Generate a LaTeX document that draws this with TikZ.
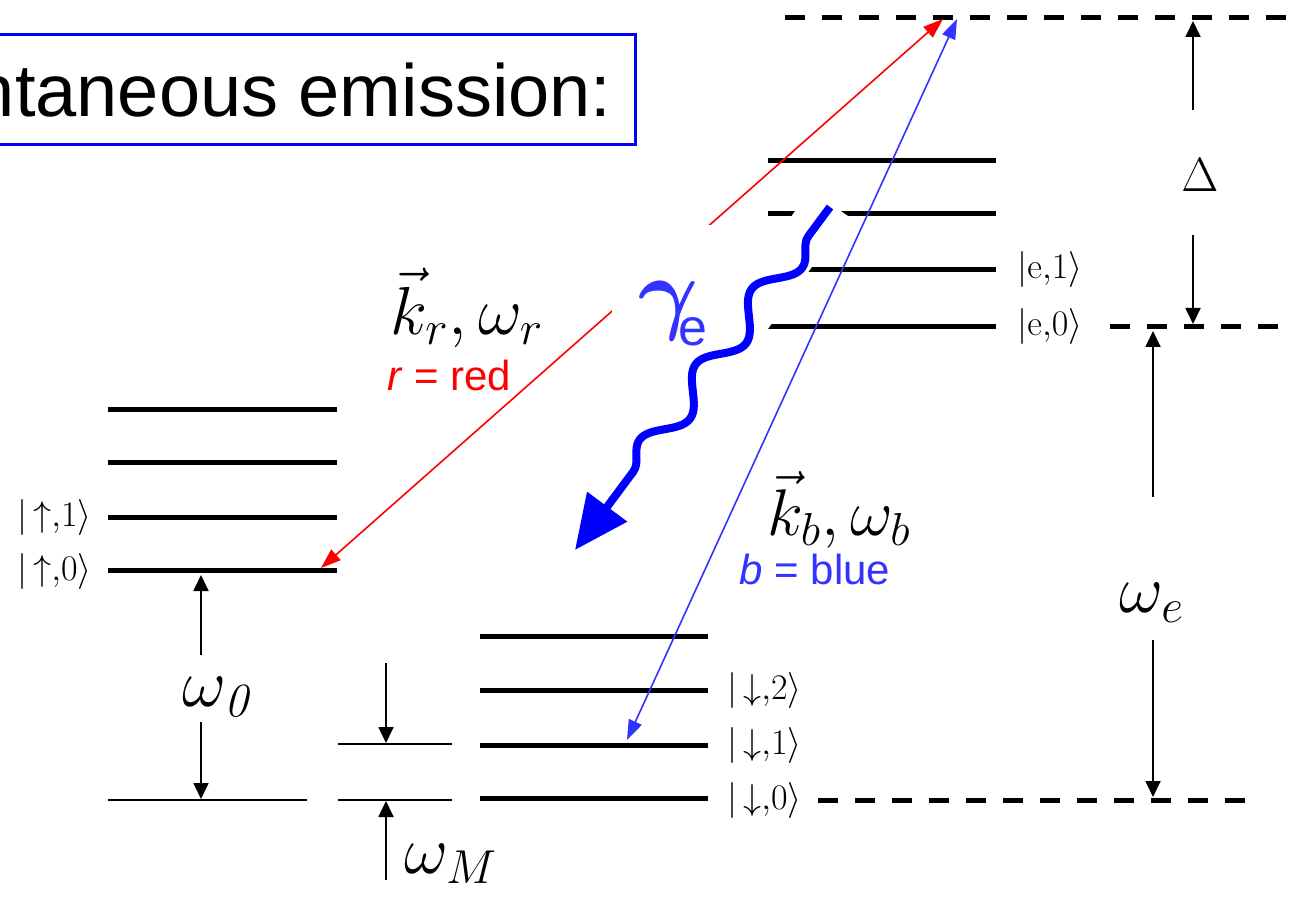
\RequirePackage{fix-cm}
\documentclass[tikz,border=0pt]{standalone}
\usepackage{amsmath}
\usepackage[no-math]{fontspec}
\setmainfont{Liberation Sans}
\usetikzlibrary{arrows.meta,decorations.pathmorphing}
\definecolor{rayblue}{HTML}{3333FF}
\definecolor{rayred}{HTML}{FF0000}
\definecolor{photonblue}{HTML}{0000FF}

\begin{document}
\begin{tikzpicture}[
  x=0.5pt, y=-0.5pt,
  level/.style={line width=2.5pt},
  thinlevel/.style={line width=0.9pt},
  virtual/.style={line width=2.5pt, dash pattern=on 10pt off 8.5pt},
  arr/.style={-{Triangle[length=8pt, width=7.5pt]}, line width=0.9pt},
  ray/.style={{Triangle[length=10pt, width=7pt]}-{Triangle[length=10pt, width=7pt]}, line width=0.8pt, draw=#1},
  ket/.style={inner sep=0pt, font=\fontsize{18}{20}\selectfont},
  sym/.style={inner sep=0pt, font=\fontsize{34}{40}\selectfont},
  note/.style={inner sep=0pt, font=\fontsize{21}{24}\selectfont, text=#1},
  photon/.style={decorate, decoration={snake, amplitude=7pt, segment length=47pt, pre length=18pt, post length=40pt}, line width=#1},
  title/.style={draw=blue, line width=1.5pt, inner xsep=12pt, inner ysep=0pt, text height=41.25pt, text depth=13.75pt, font=\fontsize{37}{44}\selectfont}
]
  \useasboundingbox (0,0) rectangle (1291,903);
  \clip (0,0) rectangle (1291,903);

  % title
  \node[title, anchor=base east] (title) at (637,117) {Spontaneous emission:};

  % spin up ladder
  \foreach \y in {410,463,518,571}
    \draw[level] (108,\y) -- (337,\y);
  \draw[thinlevel] (108,800) -- (307,800);
  \node[ket, anchor=east] (up1) at (92,518) {$|\,{\uparrow}{,}1\rangle$};
  \node[ket, anchor=east] (up0) at (92,572) {$|\,{\uparrow}{,}0\rangle$};

  % spin down ladder
  \foreach \y in {636,690,745,798}
    \draw[level] (480,\y) -- (708,\y);
  \draw[thinlevel] (338,744) -- (452,744);
  \draw[thinlevel] (338,800) -- (452,800);
  \node[ket, anchor=west] (dn2) at (727,690) {$|\,{\downarrow}{,}2\rangle$};
  \node[ket, anchor=west] (dn1) at (727,745) {$|\,{\downarrow}{,}1\rangle$};
  \node[ket, anchor=west] (dn0) at (727,800) {$|\,{\downarrow}{,}0\rangle$};

  % excited ladder
  \foreach \y in {161,214,270,327}
    \draw[level] (768,\y) -- (996,\y);
  \node[ket, anchor=west] (e1) at (1017,270) {$|\mathrm{e}{,}1\rangle$};
  \node[ket, anchor=west] (e0) at (1017,327) {$|\mathrm{e}{,}0\rangle$};

  % virtual levels
  \draw[virtual] (785,18) -- (1300,18);
  \draw[virtual] (1110,327) -- (1282,327);
  \draw[virtual] (818,800) -- (1252,800);

  % splittings
  \node[sym] (w0) at (219,697) {$\omega_{\mathit{0}}$};
  \coordinate (w0a) at (201,655);
  \coordinate (w0b) at (201,575);
  \coordinate (w0c) at (201,722);
  \coordinate (w0d) at (201,799);
  \draw[arr] (w0a) -- (w0b);
  \draw[arr] (w0c) -- (w0d);

  \node[sym] (wM) at (451,864) {$\omega_M$};
  \coordinate (wMa) at (386,663);
  \coordinate (wMb) at (386,743);
  \coordinate (wMc) at (386,880);
  \coordinate (wMd) at (386,801);
  \draw[arr] (wMa) -- (wMb);
  \draw[arr] (wMc) -- (wMd);

  \node[sym] (we) at (1152,603) {$\omega_e$};
  \coordinate (wea) at (1153,497);
  \coordinate (web) at (1153,331);
  \coordinate (wec) at (1153,640);
  \coordinate (wed) at (1153,797);
  \draw[arr] (wea) -- (web);
  \draw[arr] (wec) -- (wed);

  \node[sym, font=\fontsize{24}{28}\selectfont] (Dl) at (1200,175) {$\Delta$};
  \coordinate (Dla) at (1193,110);
  \coordinate (Dlb) at (1193,21);
  \coordinate (Dlc) at (1193,235);
  \coordinate (Dld) at (1193,324);
  \draw[arr] (Dla) -- (Dlb);
  \draw[arr] (Dlc) -- (Dld);

  % raman beams
  \coordinate (rA) at (321,568);
  \coordinate (rB) at (943,19);
  \coordinate (bA) at (957,19);
  \coordinate (bB) at (627,740);
  \draw[ray=rayred] (rA) -- (rB);
  \draw[ray=rayblue] (bA) -- (bB);

  \node[sym] (kr) at (467,308) {$\vec{k}_r,\omega_r$};
  \node[note=rayred] (rred) at (449,375) {\textit{r} = red};
  \node[sym, font=\fontsize{33}{40}\selectfont] (kb) at (839,510) {$\vec{k}_b,\omega_b$};
  \node[note=rayblue] (bblue) at (815,569) {\textit{b} = blue};

  % spontaneous photon
  \node[fill=white, anchor=north west, inner xsep=13pt, inner ysep=28pt, text=rayblue] (gam) at (612,225)
    {{\fontsize{46}{52}\selectfont$\boldsymbol{\gamma}$}\kern-10pt\raisebox{-11.5pt}{\fontsize{26}{30}\selectfont e}};
  \fill[white] (810,190) -- (848,216) -- (600,566) -- (562,540) -- cycle;
  \coordinate (ph1) at (830,207);
  \coordinate (ph2) at (575,550);
  \draw[photon=4pt, photonblue, -{Triangle[length=27pt, width=24pt]}] (ph1) -- (ph2);
\end{tikzpicture}
\end{document}
